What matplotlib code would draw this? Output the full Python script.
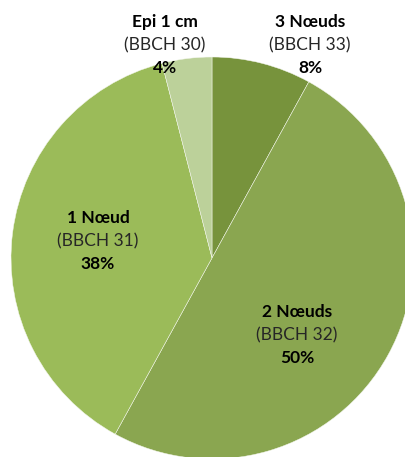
import matplotlib.pyplot as plt
import numpy as np

# data
stages = ['3 Nœuds', '2 Nœuds', '1 Nœud', 'Epi 1 cm']
bbch = ['(BBCH 33)', '(BBCH 32)', '(BBCH 31)', '(BBCH 30)']
percent = [8, 50, 38, 4]
colors = ['#77933C', '#8AA650', '#9BBB59', '#BCD19A']

# label centres (pixels from top left) and pie geometry
label_pos = [(310, 45), (297, 335), (98, 241), (165, 45)]
cx, cy, R = 212, 258, 201
W, H = 406, 457

fig = plt.figure(figsize=(W / 100, H / 100), dpi=100)
ax = fig.add_axes([0, 0, 1, 1])
ax.pie(percent, colors=colors, startangle=90, counterclock=False,
       radius=R, center=(cx, H - cy),
       wedgeprops=dict(edgecolor='#f4f7ee', linewidth=0.35))
ax.set_xlim(0, W)
ax.set_ylim(0, H)
ax.set_aspect('equal')
ax.axis('off')

plt.rcParams['font.family'] = ['Lato', 'DejaVu Sans']
for i in range(len(stages)):
    x, y = label_pos[i]
    ax.text(x, H - (y - 23), stages[i], ha='center', va='center',
            fontsize=12.5, fontweight='bold', color='black')
    ax.text(x, H - y, bbch[i], ha='center', va='center',
            fontsize=12.5, color='#262626')
    ax.text(x, H - (y + 23), str(percent[i]) + '%', ha='center', va='center',
            fontsize=12.5, fontweight='bold', color='black')

fig.savefig('out.png', dpi=100)
